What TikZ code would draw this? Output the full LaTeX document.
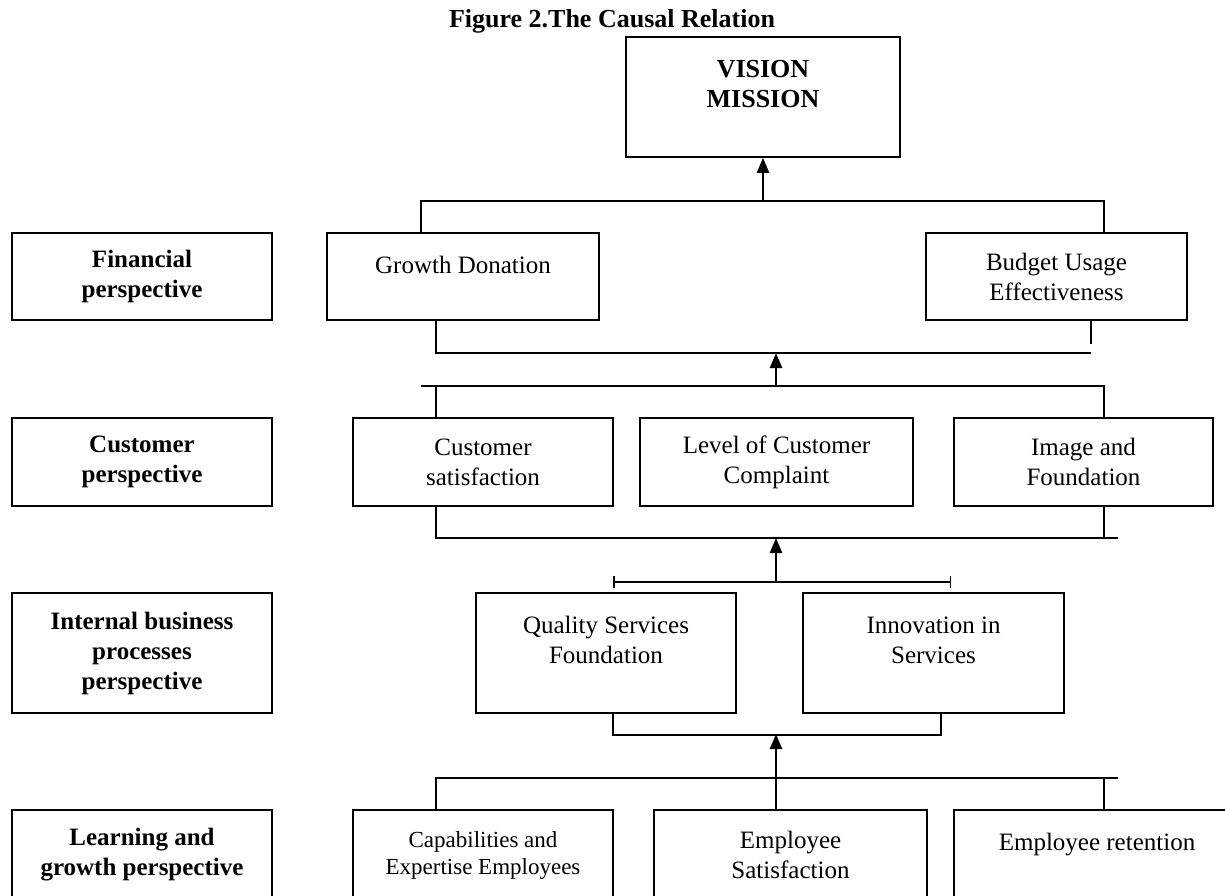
\documentclass[tikz,border=0pt]{standalone}
\usepackage{fontspec}
\setmainfont{Liberation Serif}
\usetikzlibrary{arrows.meta, positioning}

\tikzset{
  box/.style={draw, line width=1.6pt, align=center, inner sep=0pt, font=\fontsize{25}{30}\selectfont},
  headbox/.style={box, font=\fontsize{25}{30}\selectfont\bfseries, minimum width=260pt},
  link/.style={line width=1.5pt},
  uparrow/.style={line width=2.4pt, -{Triangle[length=15pt,width=12pt]}}
}

\begin{document}
\begin{tikzpicture}[x=1pt, y=-1pt]
			\useasboundingbox (0,0) rectangle (1225,895);
			\clip (0,0) rectangle (1225,895);
			
			% Title
			\node[anchor=base, font=\fontsize{26}{30}\selectfont\bfseries] (title) at (612,27) {Figure 2.The Causal Relation};
			
			% Vision
			\node[box, font=\fontsize{26}{30}\selectfont\bfseries, minimum width=274pt, minimum height=120pt, text depth=26pt] (vision) at (763,97) {VISION\\MISSION};
			
			% Perspectives (left column)
			\node[headbox, minimum height=87pt] (financial) at (142,276.5) {Financial\\perspective};
			\node[headbox, minimum height=88pt] (customer) at (142,462) {Customer\\perspective};
			\node[headbox, minimum height=120pt] (internal) at (142,653) {Internal business\\processes\\perspective};
			\node[headbox, minimum height=90pt] (learning) at (142,855) {Learning and\\growth perspective};
			
			% Financial row
			\node[box, minimum width=272pt, minimum height=87pt, text depth=23pt] (growth) at (463,276.5) {Growth Donation};
			\node[box, minimum width=261pt, minimum height=87pt] (budget) at (1056.5,276.5) {Budget Usage\\Effectiveness};
			
			% Customer row
			\node[box, minimum width=260pt, minimum height=88pt] (custsat) at (483,462) {Customer\\satisfaction};
			\node[box, minimum width=273pt, minimum height=88pt] (complaint) at (776.5,462) {Level of Customer\\Complaint};
			\node[box, minimum width=259pt, minimum height=88pt] (image) at (1083.5,462) {Image and\\Foundation};
			
			% Internal row
			\node[box, minimum width=260pt, minimum height=120pt, text depth=26pt] (quality) at (606,653) {Quality Services\\Foundation};
			\node[box, minimum width=261pt, minimum height=120pt, text depth=26pt] (innov) at (933.5,653) {Innovation in\\Services};
			
			% Learning row
			\node[box, font=\fontsize{23}{27}\selectfont, minimum width=260pt, minimum height=90pt] (capab) at (483,855) {Capabilities and\\Expertise Employees};
			\node[box, minimum width=273pt, minimum height=90pt] (empsat) at (790.5,855) {Employee\\Satisfaction};
			\node[box, minimum width=286pt, minimum height=90pt, text depth=27pt] (retain) at (1097,855) {Employee retention};
			
			% Financial -> Vision
			\coordinate (topmid) at (763,201);
			\draw[uparrow] (topmid) -- (vision.south);
			\draw[link] ([xshift=-42pt]growth.north) |- (topmid) -| ([xshift=47.5pt]budget.north);
			
			% Customer -> Financial
			\coordinate (finmid) at (776,353);
			\coordinate (finend) at (1091,353);
			\draw[link] ([xshift=-27pt]growth.south) |- (finend);
			\draw[link] ([xshift=34.5pt]budget.south) -- ++(0,23);
			\coordinate (custtop) at (776,386);
			\coordinate (custleft) at (421,386);
			\draw[uparrow] (custtop) -- (finmid);
			\draw[link] (custleft) -| ([xshift=20.5pt]image.north);
			\draw[link] ([xshift=-47pt]custsat.north) -- ++(0,-32);
			
			% Internal -> Customer
			\coordinate (custlow) at (1118,538);
			\coordinate (custmid) at (776,538);
			\coordinate (intmid) at (776,582);
			\draw[link] ([xshift=-47pt]custsat.south) |- (custlow);
			\draw[link] ([xshift=20.5pt]image.south) -- ++(0,32);
			\draw[uparrow] (intmid) -- (custmid);
			\coordinate (brleft) at (613,582);
			\coordinate (brright) at (951,582);
			\draw[link, {Bar[width=12pt]}-{Bar[width=12pt]}] (brleft) -- (brright);
			
			% Learning -> Internal
			\draw[link] ([xshift=7pt]quality.south) -- ++(0,21) -| ([xshift=7.5pt]innov.south);
			\coordinate (intlow) at (776,734);
			\coordinate (learnmid) at (776,778);
			\coordinate (learnleft) at (435,778);
			\coordinate (learnright) at (1118,778);
			\draw[uparrow] (learnmid) -- (intlow);
			\draw[link] (learnleft) -- (learnright);
			\draw[link] ([xshift=-47pt]capab.north) -- ++(0,-32);
			\draw[link] ([xshift=-14.5pt]empsat.north) -- (learnmid);
			\draw[link] ([xshift=7pt]retain.north) -- ++(0,-32);
		\end{tikzpicture}
\end{document}
